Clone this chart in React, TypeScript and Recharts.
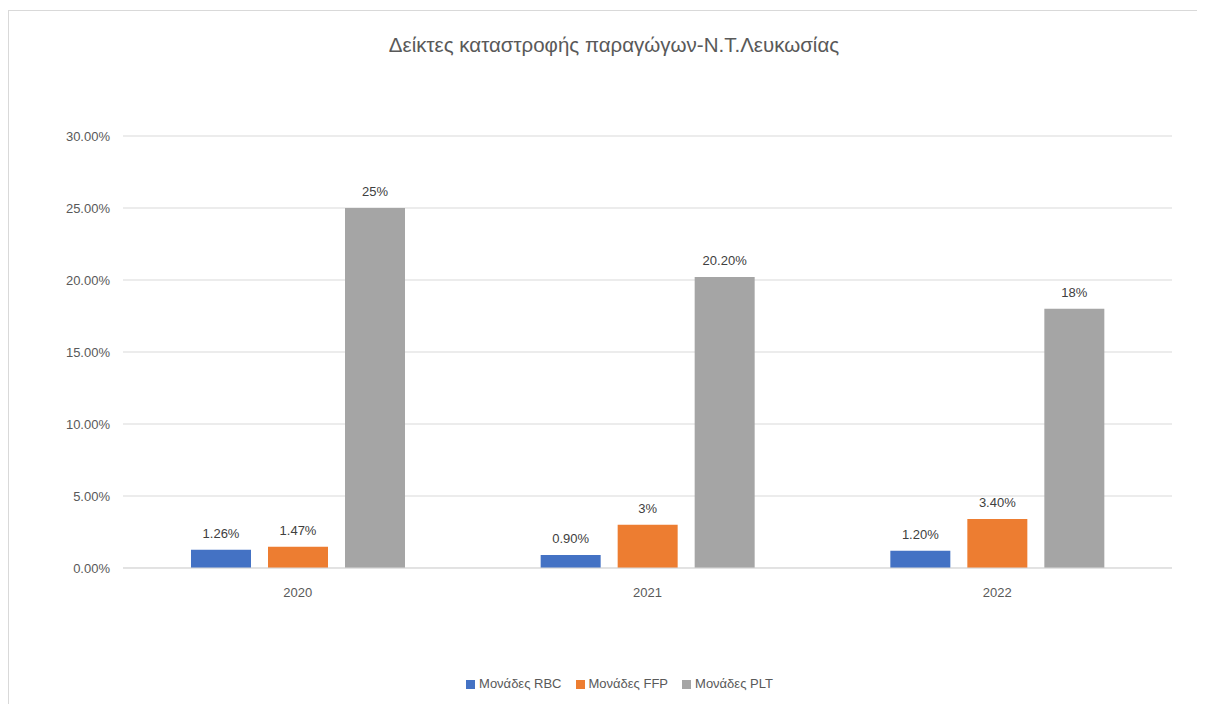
import { BarChart, Bar, XAxis, YAxis, CartesianGrid, Legend, LabelList } from 'recharts'

const years = ['2020', '2021', '2022']
const rbc = [1.26, 0.9, 1.2]
const ffp = [1.47, 3, 3.4]
const plt = [25, 20.2, 18]
const rbcLabels = ['1.26%', '0.90%', '1.20%']
const ffpLabels = ['1.47%', '3%', '3.40%']
const pltLabels = ['25%', '20.20%', '18%']
const yTicks = [0, 5, 10, 15, 20, 25, 30]
const seriesOrder = ['rbc', 'ffp', 'plt']

const data = years.map((y, i) => ({
  year: y,
  rbc: rbc[i],
  ffp: ffp[i],
  plt: plt[i],
  rbcLabel: rbcLabels[i],
  ffpLabel: ffpLabels[i],
  pltLabel: pltLabels[i],
}))

const font = '"Liberation Sans", "Open Sans", sans-serif'
const textColor = '#595959'

export default function App() {
  return (
    <div
      style={{
        position: 'relative',
        width: 1210,
        height: 710,
        marginTop: 2,
        borderLeft: '1px solid #d9d9d9',
        borderTop: '1px solid #d9d9d9',
        fontFamily: font,
        background: '#fff',
      }}
    >
      <style>{'html,body{overflow:hidden}'}</style>
      <div
        style={{
          position: 'absolute',
          top: 22,
          left: 0,
          width: 1210,
          textAlign: 'center',
          fontSize: 20.5,
          color: textColor,
        }}
      >
        Δείκτες καταστροφής παραγώγων-Ν.Τ.Λευκωσίας
      </div>
      <BarChart
        width={1196}
        height={685}
        data={data}
        margin={{ top: 125, right: 33, left: 0, bottom: 0 }}
        barGap={17}
        barCategoryGap={68}
      >
        <CartesianGrid vertical={false} stroke="#d9d9d9" />
        <XAxis
          dataKey="year"
          axisLine={{ stroke: '#d9d9d9' }}
          tickLine={false}
          tickMargin={14}
          height={108}
          tick={{ fill: textColor, fontSize: 13 }}
        />
        <YAxis
          domain={[0, 30]}
          ticks={yTicks}
          width={114}
          axisLine={false}
          tickLine={false}
          tickMargin={7}
          tickFormatter={(v: number) => v.toFixed(2) + '%'}
          tick={{ fill: textColor, fontSize: 13 }}
        />
        <Legend
          verticalAlign="bottom"
          height={20}
          iconType="square"
          iconSize={9}
          itemSorter={(item: any) => seriesOrder.indexOf(item.dataKey)}
          wrapperStyle={{ fontSize: 13, color: textColor, left: 36 }}
          formatter={(value: string) => <span style={{ color: textColor, marginRight: 4 }}>{value}</span>}
        />
        <Bar dataKey="rbc" name="Μονάδες RBC" fill="#4472C4" barSize={60} isAnimationActive={false}>
          <LabelList dataKey="rbcLabel" position="top" offset={12} fill="#404040" fontSize={13} />
        </Bar>
        <Bar dataKey="ffp" name="Μονάδες FFP" fill="#ED7D31" barSize={60} isAnimationActive={false}>
          <LabelList dataKey="ffpLabel" position="top" offset={12} fill="#404040" fontSize={13} />
        </Bar>
        <Bar dataKey="plt" name="Μονάδες PLT" fill="#A5A5A5" barSize={60} isAnimationActive={false}>
          <LabelList dataKey="pltLabel" position="top" offset={12} fill="#404040" fontSize={13} />
        </Bar>
      </BarChart>
    </div>
  )
}
